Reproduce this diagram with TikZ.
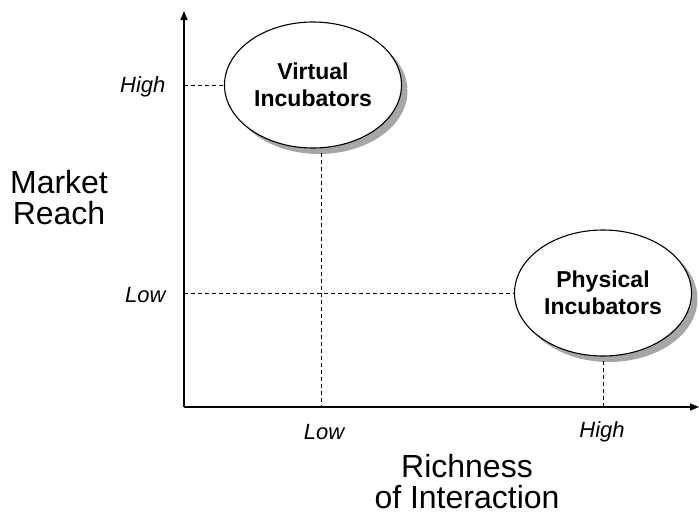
\documentclass[tikz,border=0pt]{standalone}
\usepackage{fontspec}
\setmainfont{Liberation Sans}
\usetikzlibrary{shapes.geometric,shadows,arrows.meta}
\begin{document}
\begin{tikzpicture}[x=1pt,y=-1pt,
  axisline/.style={line width=1.4pt,-{Triangle[length=9pt,width=7pt]}},
  guide/.style={line width=0.9pt,dash pattern=on 4pt off 3pt},
  blob/.style={ellipse,draw,line width=1.1pt,fill=white,minimum width=177pt,minimum height=126pt,inner sep=0pt,
    align=center,font=\fontsize{23}{27}\selectfont\bfseries,
    drop shadow={shadow xshift=6pt,shadow yshift=-6pt,fill=black!35,opacity=1}},
  tick/.style={font=\fontsize{22}{24}\selectfont\itshape},
  axtitle/.style={align=center,font=\fontsize{32}{31}\selectfont}]
\useasboundingbox (0,0) rectangle (699,517);
\coordinate (O) at (184,407);
\coordinate (ytip) at (184,11);
\coordinate (xtip) at (699,407);
\node[blob] (vi) at (313,85) {Virtual\\Incubators};
\node[blob] (pi) at (603,293) {Physical\\Incubators};
\coordinate (yhigh) at (184,85);
\coordinate (ylow) at (184,293);
\coordinate (vtop) at (321,153);
\coordinate (vbot) at (321,407);
\coordinate (ptop) at (603,361);
\coordinate (pbot) at (603,407);
\draw[guide] (yhigh) -- (vi.west);
\draw[guide] (ylow) -- (pi.west);
\draw[guide] (vtop) -- (vbot);
\draw[guide] (ptop) -- (pbot);
\draw[axisline] (O) -- (ytip);
\draw[axisline] (O) -- (xtip);
\node[tick,anchor=east] (lh) at (169,87) {High};
\node[tick,anchor=east] (ll) at (169,295) {Low};
\node[tick] (xl) at (324,432) {Low};
\node[tick] (xh) at (602,432) {High};
\node[axtitle] (yt) at (59,198) {Market\\Reach};
\node[axtitle] (xt) at (467,482) {Richness\\of Interaction};
\end{tikzpicture}
\end{document}
